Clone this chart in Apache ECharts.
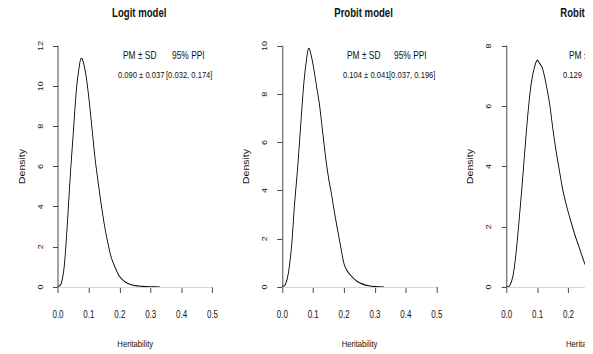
<!DOCTYPE html>
<html>
<head>
<meta charset="utf-8">
<script src="https://cdn.jsdelivr.net/npm/echarts@6/dist/echarts.min.js"></script>
<style>
html,body{margin:0;padding:0;background:#fff;}
#clip{width:585px;height:354px;overflow:hidden;position:relative;background:#fff;}
#main{width:880px;height:354px;transform:scaleX(0.8);transform-origin:0 0;}
</style>
</head>
<body>
<div id="clip"><div id="main"></div></div>
<script>
// ---- data ----
const panelTitles = ["Logit model", "Probit model", "Robit model"];
const xTickLabels = ["0.0", "0.1", "0.2", "0.3", "0.4", "0.5"];
const yMax = [12, 10, 8];
const statHeader = ["PM ± SD", "95% PPI"];
const pmSd = ["0.090 ± 0.037", "0.104 ± 0.041", "0.129"];
const ppi = ["[0.032, 0.174]", "[0.037, 0.196]", ""];

const logitX = [0, 0.01, 0.02, 0.03, 0.04, 0.05, 0.06, 0.07, 0.075, 0.08, 0.09, 0.10, 0.11, 0.12, 0.13, 0.14, 0.15, 0.16, 0.17, 0.18, 0.19, 0.20, 0.22, 0.24, 0.26, 0.28, 0.30, 0.33];
const logitY = [0, 0.15, 1.0, 3.1, 5.6, 7.8, 9.9, 11.1, 11.39, 11.3, 10.6, 9.4, 7.9, 6.4, 5.2, 4.1, 3.1, 2.3, 1.6, 1.14, 0.8, 0.5, 0.22, 0.1, 0.05, 0.02, 0.01, 0];

const probitX = [0, 0.01, 0.02, 0.03, 0.04, 0.05, 0.06, 0.07, 0.08, 0.0855, 0.09, 0.10, 0.11, 0.12, 0.13, 0.14, 0.15, 0.16, 0.17, 0.18, 0.19, 0.20, 0.21, 0.22, 0.24, 0.26, 0.28, 0.30, 0.33];
const probitY = [0, 0.1, 0.6, 1.7, 3.5, 5.0, 6.8, 8.5, 9.6, 9.9, 9.8, 9.2, 8.4, 7.6, 6.5, 5.4, 4.5, 3.8, 3.0, 2.3, 1.6, 0.95, 0.67, 0.5, 0.25, 0.12, 0.05, 0.02, 0];

const robitX = [0, 0.01, 0.02, 0.03, 0.04, 0.05, 0.06, 0.07, 0.08, 0.09, 0.0994, 0.105, 0.114, 0.12, 0.13, 0.14, 0.15, 0.16, 0.17, 0.18, 0.19, 0.20, 0.21, 0.22, 0.23, 0.24, 0.25, 0.26, 0.28, 0.30, 0.33];
const robitY = [0, 0.05, 0.35, 1.1, 2.2, 3.4, 4.7, 5.9, 6.8, 7.3, 7.53, 7.45, 7.3, 7.1, 6.6, 6.0, 5.2, 4.5, 3.9, 3.3, 2.85, 2.45, 2.1, 1.75, 1.45, 1.15, 0.85, 0.6, 0.3, 0.12, 0.03];

const curvesX = [logitX, probitX, robitX];
const curvesY = [logitY, probitY, robitY];

// ---- layout (screen px; the chart is drawn 1/0.8 wider and squeezed horizontally) ----
const SX = 0.8;
const gridLeftsScreen = [58, 282.3, 506.7];
const gridWidthScreen = 154.5;
const gridTop = 46;
const gridHeight = 242;
const hdrLeft = [[123, 172], [347, 394], [569, 618]];
const valLeft = [[118, 166], [343, 389], [563, 612]];
const font = "'Liberation Sans', Arial, Helvetica, sans-serif";
const textColor = '#111';
const axisColor = '#333';

const chart = echarts.init(document.getElementById('main'), null, {renderer: 'svg'});

const grids = [], xAxes = [], yAxes = [], series = [], titles = [], graphics = [];
for (let i = 0; i < 3; i++) {
  const left = gridLeftsScreen[i] / SX;
  const width = gridWidthScreen / SX;
  grids.push({left: left, top: gridTop, width: width, height: gridHeight});
  xAxes.push({
    type: 'value', gridIndex: i, min: 0, max: 0.5, interval: 0.1, offset: 10,
    axisLine: {show: true, lineStyle: {color: axisColor, width: 1}},
    axisTick: {show: true, length: 6, lineStyle: {color: axisColor}},
    axisLabel: {
      margin: 13, color: textColor, fontFamily: font, fontSize: 10,
      formatter: (v) => xTickLabels[Math.round(v * 10)]
    },
    splitLine: {show: false},
    name: 'Heritability', nameLocation: 'middle', nameGap: 42,
    nameTextStyle: {color: textColor, fontFamily: font, fontSize: 9.6}
  });
  yAxes.push({
    type: 'value', gridIndex: i, min: 0, max: yMax[i], interval: 2, offset: 6 / SX,
    axisLine: {show: true, lineStyle: {color: axisColor, width: 1.1}},
    axisTick: {show: true, length: 5 / SX, lineStyle: {color: axisColor, width: 1}},
    axisLabel: {margin: 8 / SX, rotate: 90, color: textColor, fontFamily: font, fontSize: 9},
    splitLine: {show: false},
    name: 'Density', nameLocation: 'middle', nameGap: 26 / SX, nameRotate: 90,
    nameTextStyle: {color: textColor, fontFamily: font, fontSize: 10.5}
  });
  const data = curvesX[i].map((x, k) => [x, curvesY[i][k]]);
  series.push({
    type: 'line', xAxisIndex: i, yAxisIndex: i, data: data,
    showSymbol: false, smooth: 0.3, lineStyle: {color: '#000', width: 1.1},
    silent: true, animation: false,
    markLine: {
      silent: true, symbol: 'none', label: {show: false},
      lineStyle: {color: '#e8e8e8', width: 1, type: 'solid'},
      data: [{yAxis: 0}]
    }
  });
  titles.push({
    text: panelTitles[i], left: left + width / 2, top: 2, textAlign: 'center',
    textStyle: {fontFamily: font, fontWeight: 'bold', fontSize: 12, color: textColor}
  });
  graphics.push({type: 'text', left: hdrLeft[i][0] / SX, top: 50,
    style: {text: statHeader[0], font: "10.5px " + font, fill: textColor}});
  graphics.push({type: 'text', left: hdrLeft[i][1] / SX, top: 50,
    style: {text: statHeader[1], font: "10.5px " + font, fill: textColor}});
  graphics.push({type: 'text', left: valLeft[i][0] / SX, top: 70,
    style: {text: pmSd[i], font: "9.5px " + font, fill: textColor}});
  if (ppi[i]) {
    graphics.push({type: 'text', left: valLeft[i][1] / SX, top: 70,
      style: {text: ppi[i], font: "9.5px " + font, fill: textColor}});
  }
}

chart.setOption({
  animation: false,
  backgroundColor: '#fff',
  title: titles,
  grid: grids,
  xAxis: xAxes,
  yAxis: yAxes,
  series: series,
  graphic: graphics
});
</script>
</body>
</html>
